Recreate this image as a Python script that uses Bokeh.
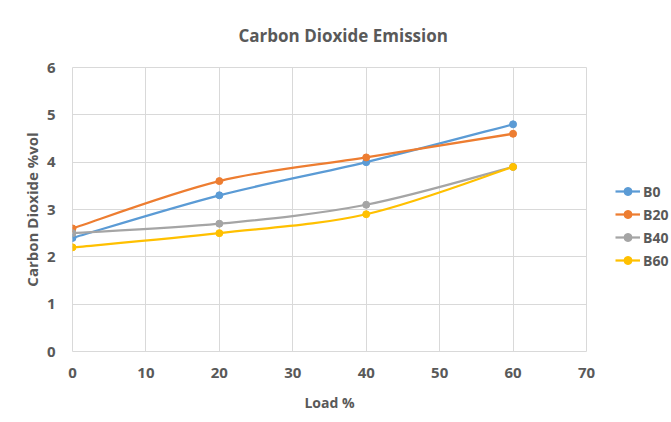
from bokeh.plotting import figure
from bokeh.models import Legend, LegendItem, ColumnDataSource, FixedTicker
from bokeh.embed import file_html
from bokeh.resources import INLINE

load = [0, 20, 40, 60]
b0 = [2.4, 3.3, 4.0, 4.8]
b20 = [2.6, 3.6, 4.1, 4.6]
b40 = [2.5, 2.7, 3.1, 3.9]
b60 = [2.2, 2.5, 2.9, 3.9]
series_names = ["B0", "B20", "B40", "B60"]
colors = ["#5b9bd5", "#ed7d31", "#a5a5a5", "#ffc000"]
x_ticks = [0, 10, 20, 30, 40, 50, 60, 70]
y_ticks = [0, 1, 2, 3, 4, 5, 6]

FONT = "Open Sans"
TXT = "#595959"

p = figure(frame_width=514, frame_height=284, output_backend="svg", toolbar_location=None,
           x_range=(0, 70), y_range=(0, 6),
           min_border_left=72, min_border_right=85, min_border_top=66, min_border_bottom=72)

p.title.text = "Carbon Dioxide Emission"
p.title.align = "left"
p.title.offset = 166
p.title.standoff = 42
p.title.text_font = FONT
p.title.text_font_size = "17px"
p.title.text_color = TXT
p.title.text_font_style = "bold"

p.xaxis.ticker = FixedTicker(ticks=x_ticks)
p.yaxis.ticker = FixedTicker(ticks=y_ticks)
for ax in (p.xaxis, p.yaxis):
    ax.axis_line_color = None
    ax.major_tick_line_color = None
    ax.minor_tick_line_color = None
    ax.major_tick_out = 0
    ax.major_tick_in = 0
    ax.major_label_text_font = FONT
    ax.major_label_text_font_size = "15px"
    ax.major_label_text_font_style = "bold"
    ax.major_label_text_color = TXT
    ax.axis_label_text_font = FONT
    ax.axis_label_text_font_style = "bold"
    ax.axis_label_text_color = TXT
p.xaxis.axis_label = "Load %"
p.yaxis.axis_label = "Carbon Dioxide %vol"
p.xaxis.axis_label_text_font_size = "14px"
p.yaxis.axis_label_text_font_size = "15px"
p.xaxis.major_label_standoff = 16
p.yaxis.major_label_standoff = 17
p.xaxis.axis_label_standoff = 12
p.yaxis.axis_label_standoff = 2

p.xgrid.grid_line_color = "#d9d9d9"
p.ygrid.grid_line_color = "#d9d9d9"
p.outline_line_color = "#d9d9d9"
p.background_fill_color = "white"
p.border_fill_color = "white"


def smooth_segments(xs, ys):
    n = len(xs)
    seg = dict(x0=[], y0=[], x1=[], y1=[], cx0=[], cy0=[], cx1=[], cy1=[])
    for i in range(n - 1):
        ia, ib = max(i - 1, 0), min(i + 2, n - 1)
        seg["x0"].append(xs[i]); seg["y0"].append(ys[i])
        seg["x1"].append(xs[i + 1]); seg["y1"].append(ys[i + 1])
        seg["cx0"].append(xs[i] + (xs[i + 1] - xs[ia]) / 6)
        seg["cy0"].append(ys[i] + (ys[i + 1] - ys[ia]) / 6)
        seg["cx1"].append(xs[i + 1] - (xs[ib] - xs[i]) / 6)
        seg["cy1"].append(ys[i + 1] - (ys[ib] - ys[i]) / 6)
    return seg


items = []
for name, ys, c in zip(series_names, [b0, b20, b40, b60], colors):
    src = ColumnDataSource(smooth_segments(load, ys))
    r1 = p.bezier(x0="x0", y0="y0", x1="x1", y1="y1", cx0="cx0", cy0="cy0",
                  cx1="cx1", cy1="cy1", source=src, line_color=c, line_width=2.25)
    r2 = p.scatter(load, ys, size=7, color=c)
    items.append(LegendItem(label=name, renderers=[r1, r2]))

legend = Legend(items=items, location=(29, 81), border_line_color=None,
                label_text_font=FONT, label_text_font_size="14px",
                label_text_font_style="bold", label_text_color=TXT,
                glyph_width=25, glyph_height=20, label_standoff=3,
                spacing=3, padding=0, margin=0,
                background_fill_alpha=0)
p.add_layout(legend, "right")

open("out.html", "w").write(file_html(p, INLINE))
